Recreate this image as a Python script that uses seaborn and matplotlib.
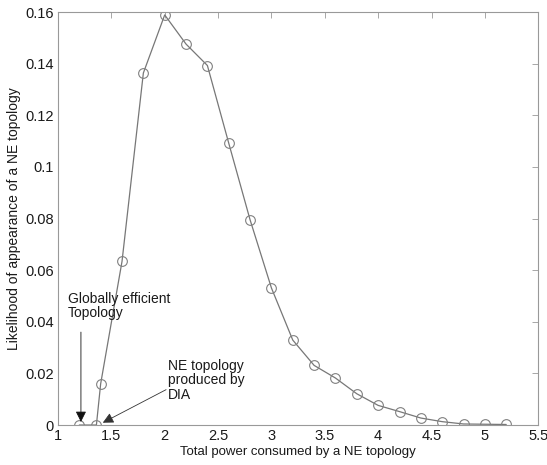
import matplotlib
matplotlib.use("Agg")
import matplotlib.pyplot as plt
import seaborn as sns
import pandas as pd

# power consumed vs likelihood of a NE topology
power = [1.2, 1.36, 1.4, 1.6, 1.8, 2.0, 2.2, 2.4, 2.6, 2.8, 3.0, 3.2, 3.4,
         3.6, 3.8, 4.0, 4.2, 4.4, 4.6, 4.8, 5.0, 5.2]
likelihood = [0.0, 0.0, 0.0160, 0.0634, 0.1364, 0.1589, 0.1476, 0.1393,
              0.1092, 0.0795, 0.0531, 0.0329, 0.0231, 0.0182, 0.0121,
              0.0076, 0.0052, 0.0027, 0.0013, 0.0004, 0.0003, 0.0002]
x_ticks = [1, 1.5, 2, 2.5, 3, 3.5, 4, 4.5, 5, 5.5]
y_ticks = [0, 0.02, 0.04, 0.06, 0.08, 0.1, 0.12, 0.14, 0.16]
x_ticklabels = ["1", "1.5", "2", "2.5", "3", "3.5", "4", "4.5", "5", "5.5"]
y_ticklabels = ["0", "0.02", "0.04", "0.06", "0.08", "0.1", "0.12", "0.14", "0.16"]

df = pd.DataFrame({"power": power, "likelihood": likelihood})

sns.set_style("white")
plt.rcParams["font.family"] = ["Liberation Sans", "DejaVu Sans"]

fig = plt.figure(figsize=(5.47, 4.65), dpi=100)
ax = fig.add_axes([0.106, 0.086, 0.878, 0.888])

sns.lineplot(data=df, x="power", y="likelihood", ax=ax, color="#777777",
             linewidth=0.9, marker="o", markersize=7, markerfacecolor="none",
             markeredgecolor="#808080", markeredgewidth=0.8)

ax.set_xlim(1, 5.5)
ax.set_ylim(0, 0.16)
ax.set_xticks(x_ticks)
ax.set_xticklabels(x_ticklabels)
ax.set_yticks(y_ticks)
ax.set_yticklabels(y_ticklabels)
ax.tick_params(direction="in", length=4, width=0.6, color="#999999",
               top=True, right=True, labelsize=10.5, labelcolor="#1a1a1a", pad=3)
for s in ax.spines.values():
    s.set_color("#999999")
    s.set_linewidth(0.8)

ax.set_xlabel("Total power consumed by a NE topology", fontsize=9.5, color="#1a1a1a", labelpad=2)
ax.set_ylabel("Likelihood of appearance of a NE topology", fontsize=10, color="#1a1a1a", labelpad=3)

ax.text(1.094, 0.0462, "Globally efficient\nTopology", fontsize=10, color="#1a1a1a",
        ha="left", va="center", linespacing=1.05)
ax.annotate("", xy=(1.215, 0.0012), xytext=(1.215, 0.036),
            arrowprops=dict(arrowstyle="-|>", color="#111111", lw=0.6,
                            mutation_scale=16, shrinkA=0, shrinkB=0))
ax.text(2.03, 0.0173, "NE topology\nproduced by\nDIA", fontsize=10, color="#1a1a1a",
        ha="left", va="center", linespacing=1.05)
ax.annotate("", xy=(1.42, 0.0009), xytext=(2.013, 0.0137),
            arrowprops=dict(arrowstyle="-|>", color="#333333", lw=0.6,
                            mutation_scale=16, shrinkA=0, shrinkB=0))

fig.savefig("out.png", dpi=100)
